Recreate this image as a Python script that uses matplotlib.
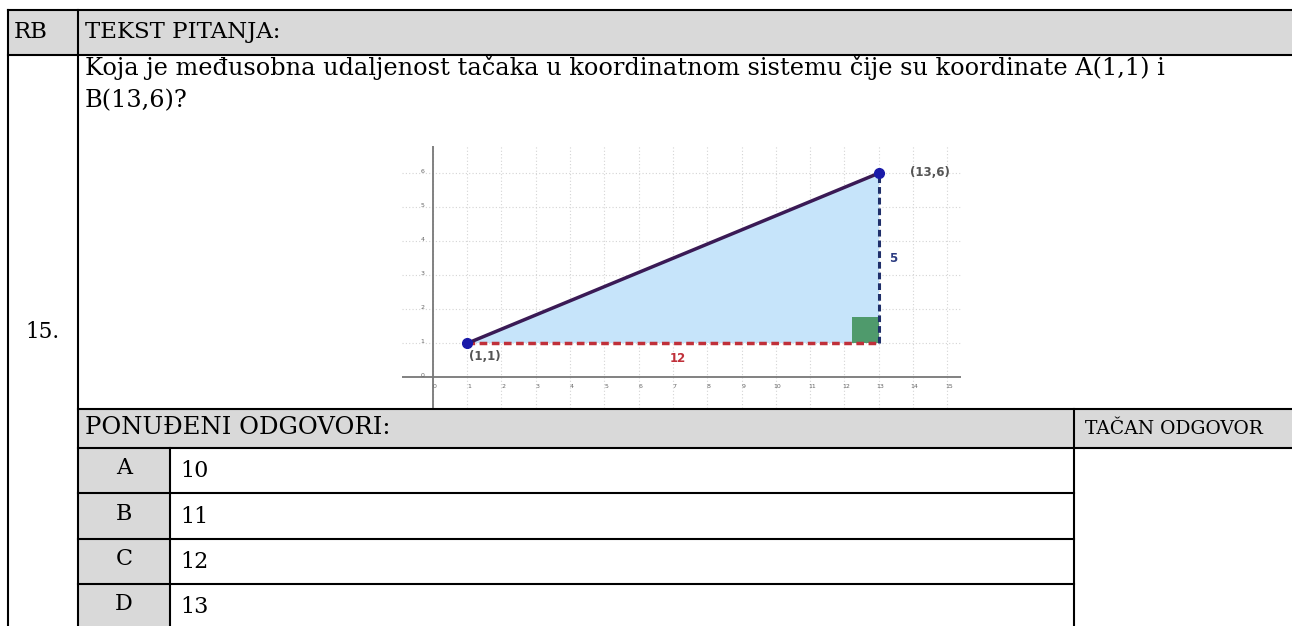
import numpy as np
import matplotlib
matplotlib.use("Agg")
import matplotlib.pyplot as plt
from matplotlib.patches import Rectangle, Polygon

# data
header = ["RB", "TEKST PITANJA:"]
question_no = "15."
question = ["Koja je međusobna udaljenost tačaka u koordinatnom sistemu čije su koordinate A(1,1) i",
            "B(13,6)?"]
letters = ["A", "B", "C", "D"]
answers = ["10", "11", "12", "13"]
pA = (1, 1)
pB = (13, 6)
x_ticks = list(range(0, 16))
y_ticks = list(range(0, 7))

W, H = 1292, 626
fig = plt.figure(figsize=(W / 100, H / 100), dpi=100)
fig.patch.set_facecolor("white")

# table drawn in pixel coordinates
tb = fig.add_axes([0, 0, 1, 1])
tb.set_xlim(0, W)
tb.set_ylim(H, 0)
tb.axis("off")

gray = "#d9d9d9"
serif = "DejaVu Serif"
lw = 1.5

def cell(x0, y0, x1, y1, fc):
    tb.add_patch(Rectangle((x0, y0), x1 - x0, y1 - y0, fc=fc, ec="none", zorder=1))

def hline(y, x0, x1):
    tb.plot([x0, x1], [y, y], color="black", lw=lw, zorder=3, solid_capstyle="projecting")

def vline(x, y0, y1):
    tb.plot([x, x], [y0, y1], color="black", lw=lw, zorder=3, solid_capstyle="projecting")

x_left, x_rb, x_let, x_ans, x_right = 8, 78, 170, 1074, W + 5
y_top, y_head, y_pon, y_rows = 10, 55, 409, 448
row_h = 45.3

cell(x_left, y_top, x_right, y_head, gray)
cell(x_rb, y_pon, x_right, y_rows, gray)
cell(x_rb, y_rows, x_let, H + 5, gray)

hline(y_top, x_left, x_right)
hline(y_head, x_left, x_right)
hline(y_pon, x_rb, x_right)
hline(y_rows, x_rb, x_right)
for i in range(1, len(answers)):
    hline(y_rows + i * row_h, x_rb, x_ans)
vline(x_left, y_top, H + 5)
vline(x_rb, y_top, H + 5)
vline(x_let, y_rows, H + 5)
vline(x_ans, y_pon, H + 5)

tb.text(14, 32, header[0], fontsize=16.5, family=serif, va="center", ha="left")
tb.text(85, 32, header[1], fontsize=16.5, family=serif, va="center", ha="left")
tb.text(42, 332, question_no, fontsize=15.5, family=serif, va="center", ha="center")
tb.text(85, 68, question[0], fontsize=17.3, family=serif, va="center", ha="left")
tb.text(85, 101, question[1], fontsize=17.3, family=serif, va="center", ha="left")
tb.text(85, 428, "PONUĐENI ODGOVORI:", fontsize=17.5, family=serif, va="center", ha="left")
tb.text(1085, 429, "TAČAN ODGOVOR", fontsize=13.5, family=serif, va="center", ha="left")
for i, (l, a) in enumerate(zip(letters, answers)):
    yc = y_rows + (i + 0.45) * row_h
    tb.text(124, yc, l, fontsize=16, family=serif, va="center", ha="center")
    tb.text(180, yc + 3, a, fontsize=16, family=serif, va="center", ha="left")

# embedded coordinate chart
px0, px1, py0, py1 = 402, 961, 146, 408
ax = fig.add_axes([px0 / W, 1 - py1 / H, (px1 - px0) / W, (py1 - py0) / H])
ax.set_xlim(-0.9, 15.4)
ax.set_ylim(-0.9, 6.8)
ax.axis("off")

for xv in x_ticks:
    ax.plot([xv, xv], [-0.9, 6.8], color="#d4d4d4", lw=0.8, ls=(0, (1, 2)), zorder=0)
for yv in y_ticks[1:]:
    ax.plot([-0.9, 15.4], [yv, yv], color="#d4d4d4", lw=0.8, ls=(0, (1, 2)), zorder=0)
ax.plot([0, 0], [-0.9, 6.8], color="#777777", lw=1.3, zorder=1)
ax.plot([-0.9, 15.4], [0, 0], color="#777777", lw=1.3, zorder=1)
for xv in x_ticks:
    ax.text(xv + 0.05, -0.2, str(xv), fontsize=4.5, color="#666666", ha="center", va="top")
for yv in y_ticks:
    ax.text(-0.25, yv + 0.05, str(yv), fontsize=4.5, color="#666666", ha="right", va="center")

ax.add_patch(Polygon([pA, (pB[0], pA[1]), pB], closed=True, fc="#c6e4fa", ec="none", zorder=2))
ax.add_patch(Rectangle((pB[0] - 0.78, pA[1]), 0.78, 0.78, fc="#4f9a6c", ec="none", zorder=3))
ax.plot([pA[0], pB[0]], [pA[1], pA[1]], color="#c0303a", lw=2.5, ls=(0, (2.2, 1.3)), zorder=4)
ax.plot([pB[0], pB[0]], [pA[1], pB[1]], color="#1f2f6a", lw=2.2, ls=(0, (2.2, 1.3)), zorder=4)
ax.plot([pA[0], pB[0]], [pA[1], pB[1]], color="#3a1a55", lw=2.5, zorder=5)
ax.plot([pA[0], pB[0]], [pA[1], pB[1]], "o", color="#1a1aa8", ms=7, zorder=6)

ax.text(pA[0] + 0.05, pA[1] - 0.4, "(%d,%d)" % pA, fontsize=8.5, fontweight="bold",
        color="#555555", ha="left", va="center")
ax.text(pB[0] + 0.9, pB[1] + 0.02, "(%d,%d)" % pB, fontsize=8.5, fontweight="bold",
        color="#555555", ha="left", va="center")
ax.text((pA[0] + pB[0]) / 2 + 0.15, pA[1] - 0.45, str(pB[0] - pA[0]), fontsize=8.5,
        fontweight="bold", color="#c0303a", ha="center", va="center")
ax.text(pB[0] + 0.3, (pA[1] + pB[1]) / 2, str(pB[1] - pA[1]), fontsize=8.5,
        fontweight="bold", color="#2a3a80", ha="left", va="center")

fig.savefig("out.png", dpi=100)
